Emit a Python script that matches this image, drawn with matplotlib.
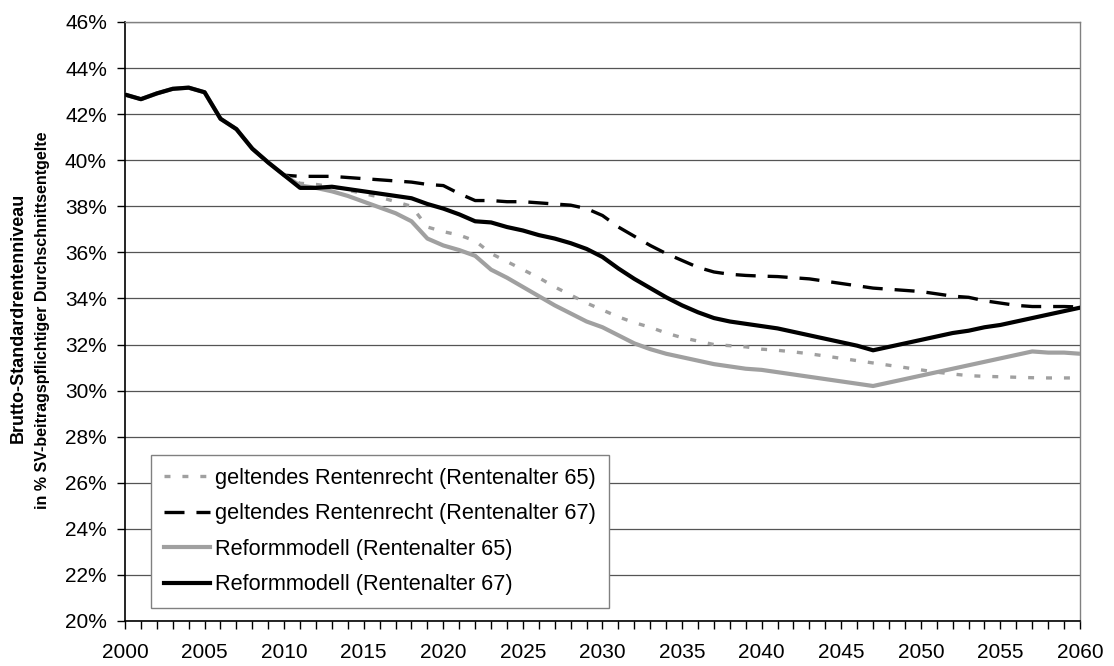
import matplotlib
matplotlib.use("Agg")
import matplotlib.pyplot as plt
from matplotlib.ticker import MultipleLocator, FuncFormatter

plt.rcParams['font.family'] = ['Liberation Sans', 'DejaVu Sans']
plt.rcParams['lines.scale_dashes'] = False

years = list(range(2000, 2061))

common = [42.85, 42.65, 42.9, 43.1, 43.15, 42.95, 41.8, 41.35, 40.5, 39.9, 39.35]

geltend_65 = common + [39.0, 38.95, 38.85, 38.7, 38.55, 38.4, 38.2, 38.0, 37.1, 36.9,
                       36.75, 36.5, 35.95, 35.6, 35.25, 34.9, 34.5, 34.15, 33.8, 33.5,
                       33.2, 32.95, 32.75, 32.5, 32.3, 32.15, 32.0, 31.95, 31.9, 31.8,
                       31.75, 31.68, 31.6, 31.5, 31.4, 31.3, 31.2, 31.1, 31.0, 30.9,
                       30.8, 30.72, 30.65, 30.62, 30.6, 30.58, 30.56, 30.55, 30.55, 30.55]

geltend_67 = common + [39.3, 39.3, 39.3, 39.25, 39.2, 39.15, 39.1, 39.05, 38.95, 38.9,
                       38.55, 38.25, 38.25, 38.2, 38.2, 38.15, 38.1, 38.05, 37.9, 37.6,
                       37.1, 36.7, 36.3, 35.95, 35.65, 35.35, 35.15, 35.05, 35.0, 34.97,
                       34.95, 34.9, 34.85, 34.75, 34.65, 34.55, 34.45, 34.4, 34.35, 34.3,
                       34.2, 34.1, 34.05, 33.9, 33.8, 33.7, 33.65, 33.65, 33.65, 33.63]

reform_65 = common + [38.9, 38.8, 38.65, 38.45, 38.2, 37.95, 37.7, 37.35, 36.6, 36.3,
                      36.1, 35.85, 35.25, 34.9, 34.5, 34.1, 33.7, 33.35, 33.0, 32.75,
                      32.4, 32.05, 31.8, 31.6, 31.45, 31.3, 31.15, 31.05, 30.95, 30.9,
                      30.8, 30.7, 30.6, 30.5, 30.4, 30.3, 30.2, 30.35, 30.5, 30.65,
                      30.8, 30.95, 31.1, 31.25, 31.4, 31.55, 31.7, 31.65, 31.65, 31.6]

reform_67 = common + [38.8, 38.8, 38.85, 38.75, 38.65, 38.55, 38.45, 38.35, 38.1, 37.9,
                      37.65, 37.35, 37.3, 37.1, 36.95, 36.75, 36.6, 36.4, 36.15, 35.8,
                      35.3, 34.85, 34.45, 34.05, 33.7, 33.4, 33.15, 33.0, 32.9, 32.8,
                      32.7, 32.55, 32.4, 32.25, 32.1, 31.95, 31.75, 31.9, 32.05, 32.2,
                      32.35, 32.5, 32.6, 32.75, 32.85, 33.0, 33.15, 33.3, 33.45, 33.6]

labels = ["geltendes Rentenrecht (Rentenalter 65)",
          "geltendes Rentenrecht (Rentenalter 67)",
          "Reformmodell (Rentenalter 65)",
          "Reformmodell (Rentenalter 67)"]

W, H = 1114, 666
L, R, T, B = 125, 1080, 22, 621
fig = plt.figure(figsize=(W / 100, H / 100), dpi=100)
ax = fig.add_axes([L / W, 1 - B / H, (R - L) / W, (B - T) / H])

gray = '#a0a0a0'
ax.plot(years, geltend_65, color=gray, lw=2.4, dashes=(4.3, 8.6), label=labels[0], zorder=3)
ax.plot(years, geltend_67, color='black', lw=2.4, dashes=(14.4, 8.6), label=labels[1], zorder=3)
ax.plot(years, reform_65, color=gray, lw=3.0, label=labels[2], zorder=4)
ax.plot(years, reform_67, color='black', lw=3.0, label=labels[3], zorder=5)

ax.set_xlim(2000, 2060)
ax.set_ylim(20, 46)
ax.xaxis.set_major_locator(MultipleLocator(5))
ax.xaxis.set_minor_locator(MultipleLocator(1))
ax.yaxis.set_major_locator(MultipleLocator(2))
ax.yaxis.set_major_formatter(FuncFormatter(lambda v, p: f"{v:.0f}%"))
ax.grid(axis='y', color='#555555', lw=0.9, zorder=1)
ax.set_axisbelow(True)

ax.tick_params(axis='both', which='both', direction='out', length=6, width=1,
               labelsize=15, color='black')
ax.tick_params(axis='x', pad=10)
ax.tick_params(axis='y', pad=7)

for s in ['left', 'bottom']:
    ax.spines[s].set_color('black')
    ax.spines[s].set_linewidth(1.2)
for s in ['right', 'top']:
    ax.spines[s].set_color('#808080')
    ax.spines[s].set_linewidth(1.0)

fig.text(18.5 / W, 1 - 318 / H, "Brutto-Standardrentenniveau", rotation=90,
         ha='center', va='center', fontsize=13, fontweight='bold')
fig.text(43 / W, 1 - 320 / H, "in % SV-beitragspflichtiger Durchschnittsentgelte", rotation=90,
         ha='center', va='center', fontsize=11.5, fontweight='bold')

leg = ax.legend(loc='upper left', bbox_to_anchor=(151 / W, 1 - 455 / H),
                bbox_transform=fig.transFigure,
                fontsize=15.7, frameon=True, fancybox=False, framealpha=1,
                edgecolor='#808080', handlelength=2.1, handletextpad=0.25,
                borderpad=0.6, labelspacing=0.66, borderaxespad=0)
leg.get_frame().set_linewidth(1.0)

fig.savefig("out.png", dpi=100)
